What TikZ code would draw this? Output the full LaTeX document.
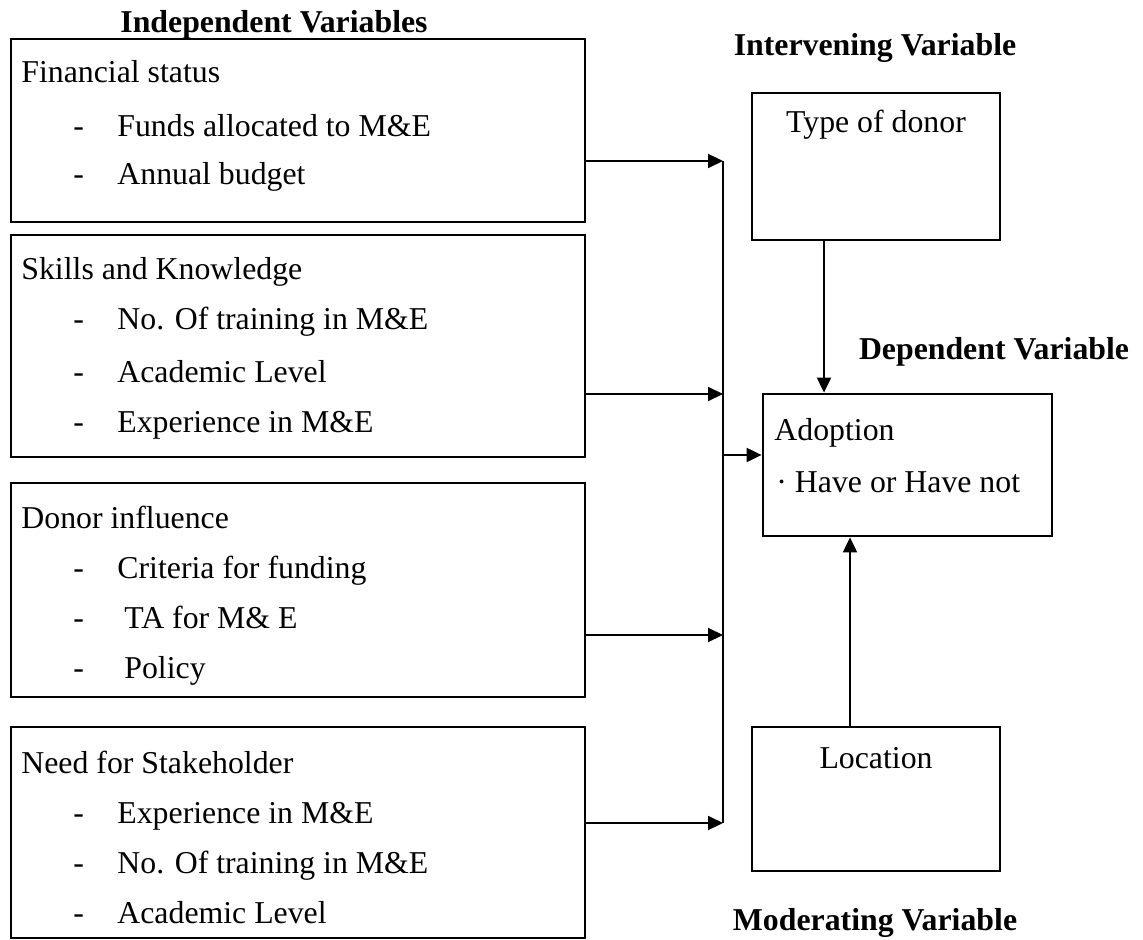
\documentclass[tikz,border=0pt]{standalone}
\usepackage{fontspec}
\setmainfont{Liberation Serif}
\usetikzlibrary{arrows.meta,fit}

\begin{document}
\begin{tikzpicture}[x=0.5pt,y=-0.5pt,
  box/.style={draw, line width=1.4pt, inner sep=0pt},
  link/.style={line width=1pt},
  arr/.style={line width=1pt, -{Triangle[length=7.5pt,width=7pt]}},
  txt/.style={anchor=base west, inner sep=0pt, font=\fontsize{15.9}{19}\selectfont},
  ttl/.style={anchor=base, inner sep=0pt, font=\fontsize{15.9}{19}\selectfont\bfseries}]

\useasboundingbox (0,0) rectangle (1143,940);

% Independent variables
\node[ttl] (indep) at (274,33) {Independent Variables};

\node[box, fit={(11,39) (585,222)}] (fin) {};
\node[txt] (fin-h) at (21,83) {Financial status};
\foreach \y/\t [count=\i] in {137/Funds allocated to M\&E, 185/Annual budget} {
  \node[txt] (fin-d\i) at (73,\y) {-};
  \node[txt] (fin-\i) at (117,\y) {\t};
}

\node[box, fit={(11,235) (585,457)}] (skill) {};
\node[txt] (skill-h) at (21,280) {Skills and Knowledge};
\foreach \y/\t [count=\i] in {330/No. Of training in M\&E, 382/Academic Level, 432/Experience in M\&E} {
  \node[txt] (skill-d\i) at (73,\y) {-};
  \node[txt] (skill-\i) at (117,\y) {\t};
}

\node[box, fit={(11,483) (585,697)}] (donor) {};
\node[txt] (donor-h) at (21,528) {Donor influence};
\node[txt] (donor-d1) at (73,578) {-};
\node[txt] (donor-1) at (117,578) {Criteria for funding};
\node[txt] (donor-d2) at (73,628) {-};
\node[txt] (donor-2) at (124,628) {TA for M\& E};
\node[txt] (donor-d3) at (73,678) {-};
\node[txt] (donor-3) at (124,678) {Policy};

\node[box, fit={(11,727) (585,938)}] (need) {};
\node[txt] (need-h) at (21,773) {Need for Stakeholder};
\foreach \y/\t [count=\i] in {823/Experience in M\&E, 873/No. Of training in M\&E, 923/Academic Level} {
  \node[txt] (need-d\i) at (73,\y) {-};
  \node[txt] (need-\i) at (117,\y) {\t};
}

% Intervening, dependent, moderating
\node[ttl] (interv) at (875,56) {Intervening Variable};
\node[box, fit={(752,93) (1000,240)}] (tod) {};
\node[txt, anchor=base] (tod-t) at (876,133) {Type of donor};

\node[ttl] (dep) at (994,359) {Dependent Variable};
\node[box, fit={(763,394) (1052,536)}] (adopt) {};
\node[txt] (adopt-t) at (774,440) {Adoption};
\node[txt] (adopt-1) at (776,492) {· Have or Have not};

\node[box, fit={(752,727) (1000,871)}] (loc) {};
\node[txt, anchor=base] (loc-t) at (876,768) {Location};
\node[ttl] (moder) at (875,930) {Moderating Variable};

% Connectors
\coordinate (j1) at (723,161);
\coordinate (j2) at (723,394);
\coordinate (j3) at (723,635);
\coordinate (j4) at (723,823);
\coordinate (jm) at (723,455);

\draw[link] (j1) -- (j4);
\draw[arr] (fin.east |- j1) -- (j1);
\draw[arr] (skill.east |- j2) -- (j2);
\draw[arr] (donor.east |- j3) -- (j3);
\draw[arr] (need.east |- j4) -- (j4);
\draw[arr] (jm) -- (adopt.west |- jm);

\draw[arr] ([xshift=-26pt]tod.south) -- ([xshift=-26pt]tod.south |- adopt.north);
\draw[arr] ([xshift=-13pt]loc.north) -- ([xshift=-13pt]loc.north |- adopt.south);

\end{tikzpicture}
\end{document}
